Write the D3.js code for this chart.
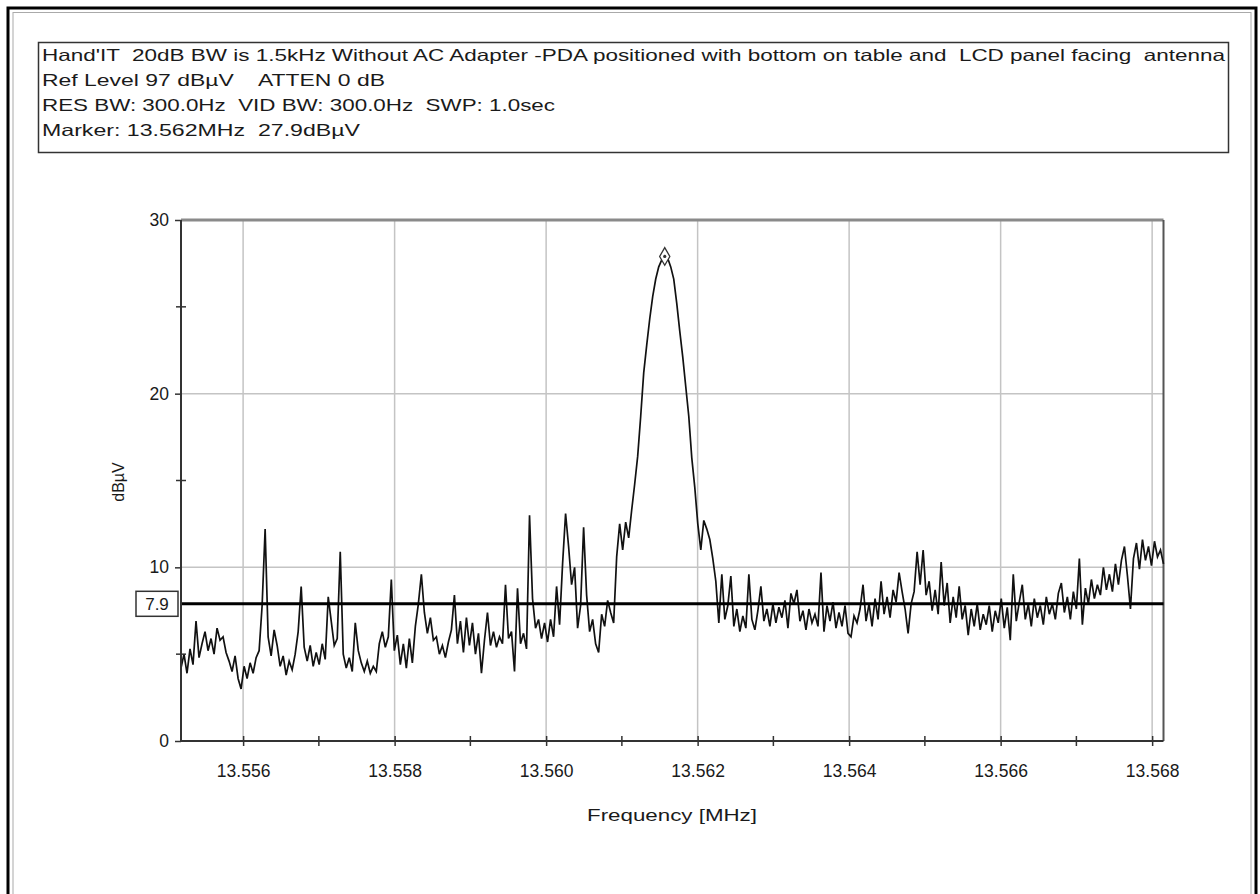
<!DOCTYPE html>
<html><head><meta charset="utf-8">
<script src="https://cdn.jsdelivr.net/npm/d3@7"></script>
<style>
body{margin:0;background:#fff}
svg{display:block}
text{font-family:"Liberation Sans",Arial,sans-serif;fill:#1a1a1a;white-space:pre}
</style>
</head><body>
<svg id="c" width="1260" height="894"></svg>
<script>
// ---------- data ----------
const headerLines = [
  "Hand'IT  20dB BW is 1.5kHz Without AC Adapter -PDA positioned with bottom on table and  LCD panel facing  antenna",
  "Ref Level 97 dB\u00B5V    ATTEN 0 dB",
  "RES BW: 300.0Hz  VID BW: 300.0Hz  SWP: 1.0sec",
  "Marker: 13.562MHz  27.9dB\u00B5V"
];
const headerWidths = [1183, 343, 513, 318];

const sweepStart = 13.55518;   // MHz
const sweepStop  = 13.56815;   // MHz

// trace levels in dBµV, one per sweep point
const levels = [
  4.2,5.0,3.9,5.3,4.4,6.9,4.8,5.6,6.3,5.2,5.9,5.0,6.5,5.8,6.0,5.1,4.6,4.0,4.9,3.6,
  3.0,4.3,3.6,4.5,3.9,4.8,5.2,7.8,12.2,6.0,4.9,6.4,5.5,4.3,4.9,3.8,4.6,4.1,5.0,6.3,
  8.9,5.4,4.6,5.5,4.3,5.1,4.4,5.6,4.7,8.3,6.9,5.5,5.9,10.9,5.0,4.2,4.8,4.0,6.8,5.2,
  4.5,4.0,4.6,3.9,4.3,4.0,5.6,6.3,5.4,6.0,9.3,5.2,6.1,4.4,5.6,4.2,5.9,4.5,6.6,7.9,
  9.6,7.4,6.2,7.1,5.8,6.0,5.0,5.5,4.8,5.7,6.4,8.4,5.6,6.9,5.1,7.1,5.5,6.8,5.0,6.2,
  3.9,5.8,7.4,5.5,6.3,5.4,6.0,5.6,9.0,5.9,6.3,4.0,8.8,5.6,6.2,5.3,13.0,8.2,6.5,7.0,
  5.9,6.8,5.7,7.0,6.0,8.9,6.7,10.2,13.1,11.2,9.0,10.0,6.5,7.8,12.3,8.4,6.3,7.0,5.6,5.1,
  7.3,6.6,8.1,7.4,6.8,10.6,12.5,11.0,12.6,11.7,13.3,14.8,16.4,18.7,21.2,22.8,24.3,25.6,26.6,27.3,
  27.7,27.9,27.8,27.3,26.6,25.2,23.6,22.1,20.4,18.7,16.3,14.6,12.5,11.0,12.7,12.2,11.6,10.5,9.2,6.8,
  9.6,7.0,7.8,9.5,6.6,7.6,6.3,7.2,6.5,9.6,7.0,6.4,7.5,8.9,6.9,7.6,6.6,7.9,6.8,7.7,
  7.1,8.1,6.5,8.5,7.9,8.7,6.9,7.5,6.4,7.6,6.8,7.3,6.6,9.7,6.3,7.8,6.9,8.0,6.5,7.4,
  6.6,7.8,6.2,6.0,7.2,6.8,7.6,9.0,6.9,7.9,6.6,8.2,7.0,9.2,7.3,8.3,7.1,8.7,8.0,9.7,
  8.6,7.6,6.2,7.9,8.6,10.9,9.0,11.0,8.4,9.2,7.5,8.7,7.3,10.3,7.8,9.1,6.8,8.3,7.1,8.9,
  7.0,7.8,6.1,7.6,6.6,7.9,6.4,7.3,6.7,7.8,6.3,7.5,6.8,8.2,6.5,7.7,5.8,9.6,6.9,8.0,
  9.0,7.0,7.9,6.6,8.2,7.1,7.8,6.7,8.3,7.3,7.9,7.0,8.5,9.1,7.4,8.3,7.0,8.6,7.6,10.5,
  6.7,8.8,7.9,9.3,8.2,9.0,8.4,10.0,8.7,9.6,8.6,10.2,9.0,10.4,11.2,9.5,7.6,10.5,11.4,9.9,
  11.6,10.4,11.2,10.1,11.5,10.6,11.0,10.2
];

const xTickValues  = [13.556, 13.558, 13.560, 13.562, 13.564, 13.566, 13.568];
const xMinorValues = [13.557, 13.559, 13.561, 13.563, 13.565, 13.567];
const yTickValues  = [0, 10, 20, 30];
const yMinorValues = [5, 15, 25];
const refLevel = 7.9;
const xTitle = "Frequency [MHz]";
const yTitle = "dB\u00B5V";

// ---------- drawing ----------
const svg = d3.select("#c");
const L = 181, R = 1163.5, T = 220, B = 741;

const x = d3.scaleLinear().domain([sweepStart, sweepStop]).range([L, R]);
const y = d3.scaleLinear().domain([0, 30]).range([B, T]);

const freqs = levels.map((_, i) => sweepStart + i * (sweepStop - sweepStart) / (levels.length - 1));
const trace = levels.map((v, i) => ({f: freqs[i], v}));

// outer frame
svg.append("rect").attr("x", 8).attr("y", 8).attr("width", 1248).attr("height", 900)
  .attr("fill", "none").attr("stroke", "#000").attr("stroke-width", 3);
svg.append("rect").attr("x", 13).attr("y", 12.5).attr("width", 1238).attr("height", 900)
  .attr("fill", "none").attr("stroke", "#aaa").attr("stroke-width", 1);

// header box
svg.append("rect").attr("x", 38.5).attr("y", 42.5).attr("width", 1190).attr("height", 110)
  .attr("fill", "#fff").attr("stroke", "#333").attr("stroke-width", 1.5);
svg.append("g").selectAll("text").data(headerLines).join("text")
  .attr("x", 42).attr("y", (d, i) => 61 + i * 25)
  .attr("font-size", 16.5)
  .attr("xml:space", "preserve")
  .attr("textLength", (d, i) => headerWidths[i])
  .attr("lengthAdjust", "spacingAndGlyphs")
  .text(d => d);

// grid
const grid = svg.append("g").attr("stroke", "#c4c4c4").attr("stroke-width", 1.5);
grid.selectAll("line.v").data(xTickValues).join("line").attr("class", "v")
  .attr("x1", d => x(d)).attr("x2", d => x(d)).attr("y1", T).attr("y2", B);
grid.selectAll("line.h").data(yTickValues.filter(d => d > 0 && d < 30)).join("line").attr("class", "h")
  .attr("x1", L).attr("x2", R).attr("y1", d => y(d)).attr("y2", d => y(d));

// top and right frame of plot
svg.append("line").attr("x1", L).attr("x2", R).attr("y1", T).attr("y2", T)
  .attr("stroke", "#8a8a8a").attr("stroke-width", 3);
svg.append("line").attr("x1", R).attr("x2", R).attr("y1", T).attr("y2", B)
  .attr("stroke", "#555").attr("stroke-width", 2);

// trace
const line = d3.line().x(d => x(d.f)).y(d => y(d.v));
svg.append("path").datum(trace).attr("d", line)
  .attr("fill", "none").attr("stroke", "#111").attr("stroke-width", 1.7)
  .attr("stroke-linejoin", "miter");

// reference level line
svg.append("line").attr("x1", L).attr("x2", R).attr("y1", y(refLevel)).attr("y2", y(refLevel))
  .attr("stroke", "#000").attr("stroke-width", 3);

// axes
const yAxis = svg.append("g").attr("transform", `translate(${L},0)`)
  .call(d3.axisLeft(y).tickValues(yTickValues).tickSize(6).tickPadding(6).tickFormat(d3.format("d")));
const xAxis = svg.append("g").attr("transform", `translate(0,${B})`)
  .call(d3.axisBottom(x).tickValues(xTickValues).tickSize(5).tickPadding(19).tickFormat(d3.format(".3f")));
[yAxis, xAxis].forEach(g => {
  g.select(".domain").attr("stroke", "#333").attr("stroke-width", 2);
  g.selectAll(".tick line").attr("stroke", "#333").attr("stroke-width", 1.5);
  g.selectAll(".tick text").attr("font-size", 17.5).attr("fill", "#222")
    .attr("font-family", "'Liberation Sans',Arial,sans-serif");
});
xAxis.select(".domain").attr("d", `M${L},0H${R}`);
yAxis.select(".domain").attr("d", `M0,${B}V${T}`);
xAxis.selectAll(".tick line").attr("y1", -5);

// minor ticks
svg.append("g").selectAll("line").data(xMinorValues).join("line")
  .attr("x1", d => x(d)).attr("x2", d => x(d)).attr("y1", B - 5).attr("y2", B + 5)
  .attr("stroke", "#333").attr("stroke-width", 1.5);
svg.append("g").selectAll("line").data(yMinorValues).join("line")
  .attr("x1", L - 5).attr("x2", L + 5).attr("y1", d => y(d)).attr("y2", d => y(d))
  .attr("stroke", "#333").attr("stroke-width", 1.5);

// reference level label box
const refG = svg.append("g").attr("transform", `translate(${L - 24},${y(refLevel)})`);
refG.append("rect").attr("x", -21).attr("y", -12.5).attr("width", 42).attr("height", 25)
  .attr("fill", "#fff").attr("stroke", "#333").attr("stroke-width", 1.5);
refG.append("text").attr("text-anchor", "middle").attr("dy", "0.36em")
  .attr("font-size", 17).text(d3.format(".1f")(refLevel));

// titles
svg.append("text").attr("x", 672).attr("y", 821).attr("text-anchor", "middle")
  .attr("font-size", 17).attr("textLength", 170).attr("lengthAdjust", "spacingAndGlyphs").text(xTitle);
svg.append("text").attr("transform", "translate(124,482) rotate(-90)").attr("text-anchor", "middle")
  .attr("font-size", 16).text(yTitle);

// marker diamond at peak
const peak = trace.reduce((a, b) => (b.v > a.v ? b : a));
svg.append("path").attr("d", d3.symbol(d3.symbolDiamond, 90)())
  .attr("transform", `translate(${x(peak.f)},${y(peak.v)})`)
  .attr("fill", "#fff").attr("stroke", "#333").attr("stroke-width", 1.3);
svg.append("circle").attr("cx", x(peak.f)).attr("cy", y(peak.v)).attr("r", 1.6).attr("fill", "#333");
</script>
</body></html>
